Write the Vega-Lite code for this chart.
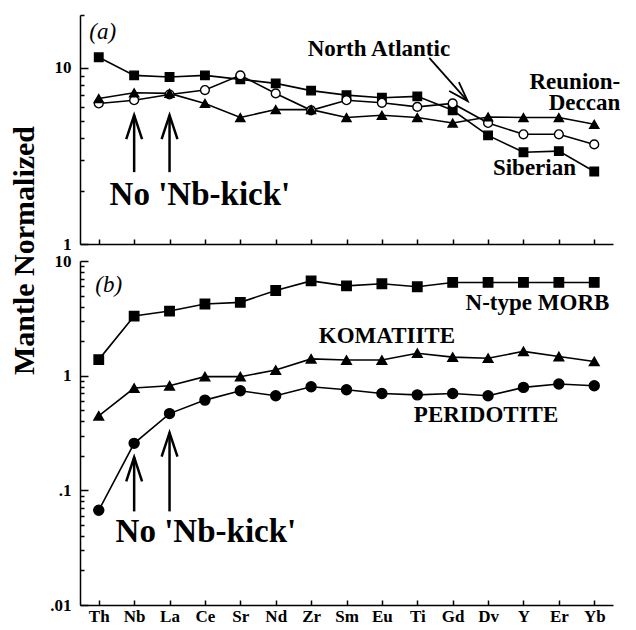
{
  "$schema": "https://vega.github.io/schema/vega-lite/v6.json",
  "padding": {"left": 9, "top": 14, "right": 5, "bottom": 5},
  "background": "white",
  "bounds": "flush",
  "config": {
    "view": {"stroke": null},
    "font": "Liberation Serif",
    "axis": {
      "domainColor": "black", "domainWidth": 1.5, "tickColor": "black", "tickWidth": 1.5,
      "labelFont": "Liberation Serif", "labelFontWeight": "bold", "labelFontSize": 17, "labelColor": "black",
      "titleFont": "Liberation Serif", "titleColor": "black", "grid": false
    },
    "text": {"font": "Liberation Serif", "fontWeight": "bold", "color": "black", "baseline": "middle", "align": "center"}
  },
  "datasets": {
    "pts": [
      {"p":"a","s":"Siberian","el":"Th","v":11.5},{"p":"a","s":"Siberian","el":"Nb","v":9.08},{"p":"a","s":"Siberian","el":"La","v":8.89},{"p":"a","s":"Siberian","el":"Ce","v":9.08},{"p":"a","s":"Siberian","el":"Sr","v":8.62},{"p":"a","s":"Siberian","el":"Nd","v":8.18},{"p":"a","s":"Siberian","el":"Zr","v":7.44},{"p":"a","s":"Siberian","el":"Sm","v":7.01},{"p":"a","s":"Siberian","el":"Eu","v":6.77},{"p":"a","s":"Siberian","el":"Ti","v":6.9},{"p":"a","s":"Siberian","el":"Gd","v":5.75},{"p":"a","s":"Siberian","el":"Dv","v":4.14},{"p":"a","s":"Siberian","el":"Y","v":3.32},{"p":"a","s":"Siberian","el":"Er","v":3.37},{"p":"a","s":"Siberian","el":"Yb","v":2.58},
      {"p":"a","s":"North Atlantic","el":"Th","v":6.29},{"p":"a","s":"North Atlantic","el":"Nb","v":6.56},{"p":"a","s":"North Atlantic","el":"La","v":7.07},{"p":"a","s":"North Atlantic","el":"Ce","v":7.49},{"p":"a","s":"North Atlantic","el":"Sr","v":9.08},{"p":"a","s":"North Atlantic","el":"Nd","v":7.17},{"p":"a","s":"North Atlantic","el":"Zr","v":5.75},{"p":"a","s":"North Atlantic","el":"Sm","v":6.56},{"p":"a","s":"North Atlantic","el":"Eu","v":6.34},{"p":"a","s":"North Atlantic","el":"Ti","v":6.01},{"p":"a","s":"North Atlantic","el":"Gd","v":6.29},{"p":"a","s":"North Atlantic","el":"Dv","v":4.87},{"p":"a","s":"North Atlantic","el":"Y","v":4.2},{"p":"a","s":"North Atlantic","el":"Er","v":4.2},{"p":"a","s":"North Atlantic","el":"Yb","v":3.68},
      {"p":"a","s":"Reunion-Deccan","el":"Th","v":6.71},{"p":"a","s":"Reunion-Deccan","el":"Nb","v":7.23},{"p":"a","s":"Reunion-Deccan","el":"La","v":7.17},{"p":"a","s":"Reunion-Deccan","el":"Ce","v":6.29},{"p":"a","s":"Reunion-Deccan","el":"Sr","v":5.23},{"p":"a","s":"Reunion-Deccan","el":"Nd","v":5.81},{"p":"a","s":"Reunion-Deccan","el":"Zr","v":5.8},{"p":"a","s":"Reunion-Deccan","el":"Sm","v":5.23},{"p":"a","s":"Reunion-Deccan","el":"Eu","v":5.39},{"p":"a","s":"Reunion-Deccan","el":"Ti","v":5.23},{"p":"a","s":"Reunion-Deccan","el":"Gd","v":4.87},{"p":"a","s":"Reunion-Deccan","el":"Dv","v":5.27},{"p":"a","s":"Reunion-Deccan","el":"Y","v":5.23},{"p":"a","s":"Reunion-Deccan","el":"Er","v":5.23},{"p":"a","s":"Reunion-Deccan","el":"Yb","v":4.79},
      {"p":"b","s":"N-type MORB","el":"Th","v":1.38},{"p":"b","s":"N-type MORB","el":"Nb","v":3.31},{"p":"b","s":"N-type MORB","el":"La","v":3.66},{"p":"b","s":"N-type MORB","el":"Ce","v":4.22},{"p":"b","s":"N-type MORB","el":"Sr","v":4.36},{"p":"b","s":"N-type MORB","el":"Nd","v":5.53},{"p":"b","s":"N-type MORB","el":"Zr","v":6.71},{"p":"b","s":"N-type MORB","el":"Sm","v":6.07},{"p":"b","s":"N-type MORB","el":"Eu","v":6.33},{"p":"b","s":"N-type MORB","el":"Ti","v":5.96},{"p":"b","s":"N-type MORB","el":"Gd","v":6.5},{"p":"b","s":"N-type MORB","el":"Dv","v":6.5},{"p":"b","s":"N-type MORB","el":"Y","v":6.5},{"p":"b","s":"N-type MORB","el":"Er","v":6.5},{"p":"b","s":"N-type MORB","el":"Yb","v":6.5},
      {"p":"b","s":"Komatiite","el":"Th","v":0.446},{"p":"b","s":"Komatiite","el":"Nb","v":0.78},{"p":"b","s":"Komatiite","el":"La","v":0.817},{"p":"b","s":"Komatiite","el":"Ce","v":0.98},{"p":"b","s":"Komatiite","el":"Sr","v":0.98},{"p":"b","s":"Komatiite","el":"Nd","v":1.12},{"p":"b","s":"Komatiite","el":"Zr","v":1.4},{"p":"b","s":"Komatiite","el":"Sm","v":1.37},{"p":"b","s":"Komatiite","el":"Eu","v":1.37},{"p":"b","s":"Komatiite","el":"Ti","v":1.57},{"p":"b","s":"Komatiite","el":"Gd","v":1.45},{"p":"b","s":"Komatiite","el":"Dv","v":1.42},{"p":"b","s":"Komatiite","el":"Y","v":1.63},{"p":"b","s":"Komatiite","el":"Er","v":1.47},{"p":"b","s":"Komatiite","el":"Yb","v":1.33},
      {"p":"b","s":"Peridotite","el":"Th","v":0.067},{"p":"b","s":"Peridotite","el":"Nb","v":0.257},{"p":"b","s":"Peridotite","el":"La","v":0.467},{"p":"b","s":"Peridotite","el":"Ce","v":0.612},{"p":"b","s":"Peridotite","el":"Sr","v":0.738},{"p":"b","s":"Peridotite","el":"Nd","v":0.668},{"p":"b","s":"Peridotite","el":"Zr","v":0.8},{"p":"b","s":"Peridotite","el":"Sm","v":0.753},{"p":"b","s":"Peridotite","el":"Eu","v":0.7},{"p":"b","s":"Peridotite","el":"Ti","v":0.68},{"p":"b","s":"Peridotite","el":"Gd","v":0.7},{"p":"b","s":"Peridotite","el":"Dv","v":0.668},{"p":"b","s":"Peridotite","el":"Y","v":0.79},{"p":"b","s":"Peridotite","el":"Er","v":0.845},{"p":"b","s":"Peridotite","el":"Yb","v":0.817}
    ]
  },
  "spacing": 17,
  "resolve": {"scale": {"y": "independent"}, "axis": {"x": "independent", "y": "independent"}},
  "vconcat": [
    {
      "width": 533, "height": 229,
      "encoding": {
        "x": {"field": "el", "type": "ordinal", "sort": ["Th","Nb","La","Ce","Sr","Nd","Zr","Sm","Eu","Ti","Gd","Dv","Y","Er","Yb"], "scale": {"type": "point", "padding": 0.53},
              "axis": {"labels": false, "title": null, "tickSize": -5}},
        "y": {"field": "v", "type": "quantitative", "scale": {"type": "log", "domain": [1, 20]},
              "axis": {"values": [1,2,3,4,5,6,7,8,9,10,20], "labelExpr": "datum.value == 1 ? '1' : datum.value == 10 ? '10' : ''",
                       "tickSize": {"condition": {"test": "datum.value == 1 || datum.value == 10", "value": -8}, "value": -4},
                       "labelPadding": 17,
                       "title": "Mantle Normalized", "titleFontSize": 30, "titleFontWeight": "bold", "titleAngle": -90,
                       "titleX": -47, "titleY": 235, "titleAlign": "center", "titleBaseline": "alphabetic"}}
      },
      "layer": [
        {"data": {"name": "pts"}, "transform": [{"filter": "datum.p == 'a'"}],
         "mark": {"type": "line", "color": "black", "strokeWidth": 1.6},
         "encoding": {"detail": {"field": "s"}}},
        {"data": {"name": "pts"}, "transform": [{"filter": "datum.p == 'a'"}],
         "mark": {"type": "point", "stroke": "black", "strokeWidth": 1.4, "opacity": 1},
         "encoding": {
           "shape": {"field": "s", "scale": {"domain": ["Siberian","North Atlantic","Reunion-Deccan","N-type MORB","Komatiite","Peridotite"], "range": ["square","circle","triangle-up","square","triangle-up","circle"]}, "legend": null},
           "fill": {"field": "s", "scale": {"domain": ["Siberian","North Atlantic","Reunion-Deccan","N-type MORB","Komatiite","Peridotite"], "range": ["black","white","black","black","black","black"]}, "legend": null},
           "size": {"field": "s", "scale": {"domain": ["Siberian","North Atlantic","Reunion-Deccan","N-type MORB","Komatiite","Peridotite"], "range": [72,100,100,62,95,64]}, "legend": null}
         }},
        {"data": {"values": [{"el":"Nb","v":2.56,"v2":5.39},{"el":"La","v":2.56,"v2":5.39}]},
         "mark": {"type": "rule", "color": "black", "strokeWidth": 2.5},
         "encoding": {"y2": {"field": "v2"}}},
        {"data": {"values": [{"el":"Nb","v":5.39},{"el":"La","v":5.39}]},
         "mark": {"type": "point", "shape": "M -0.33 1 L 0 0 L 0.33 1", "size": 2304, "filled": false, "stroke": "black", "strokeWidth": 2.5, "opacity": 1}},
        {"data": {"values": [{"el":"Ti","el2":"Gd","v":11.4,"v2":6.48}]},
         "mark": {"type": "rule", "color": "black", "strokeWidth": 1.8, "xOffset": 12, "x2Offset": 15},
         "encoding": {"x2": {"field": "el2"}, "y2": {"field": "v2"}}},
        {"data": {"values": [{"el":"Gd","v":6.48}]},
         "mark": {"type": "point", "shape": "M -0.33 1 L 0 0 L 0.33 1", "size": 1600, "filled": false, "stroke": "black", "strokeWidth": 1.8, "opacity": 1, "angle": 137, "xOffset": 15}},
        {"data": {"values": [{"el":"Th","v":16.1,"t":"(a)"}]},
         "mark": {"type": "text", "fontSize": 23, "fontStyle": "italic", "fontWeight": "normal", "dx": 4},
         "encoding": {"text": {"field": "t"}}},
        {"data": {"values": [{"el":"Eu","v":12.8,"t":"North Atlantic"}]},
         "mark": {"type": "text", "fontSize": 23, "dx": -3},
         "encoding": {"text": {"field": "t"}}},
        {"data": {"values": [{"el":"Yb","v":8.32,"t":"Reunion-"},{"el":"Yb","v":6.31,"t":"Deccan"}]},
         "mark": {"type": "text", "fontSize": 23, "align": "right", "dx": 26},
         "encoding": {"text": {"field": "t"}}},
        {"data": {"values": [{"el":"Y","v":2.72,"t":"Siberian"}]},
         "mark": {"type": "text", "fontSize": 23, "dx": 11},
         "encoding": {"text": {"field": "t"}}},
        {"data": {"values": [{"el":"Ce","v":1.89,"t":"No  'Nb-kick'"}]},
         "mark": {"type": "text", "fontSize": 33, "dx": -5},
         "encoding": {"text": {"field": "t"}}}
      ]
    },
    {
      "width": 533, "height": 344,
      "encoding": {
        "x": {"field": "el", "type": "ordinal", "sort": ["Th","Nb","La","Ce","Sr","Nd","Zr","Sm","Eu","Ti","Gd","Dv","Y","Er","Yb"], "scale": {"type": "point", "padding": 0.53},
              "axis": {"labelAngle": 0, "title": null, "tickSize": -5, "labelPadding": 8}},
        "y": {"field": "v", "type": "quantitative", "scale": {"type": "log", "domain": [0.01, 10]},
              "axis": {"values": [0.01,0.02,0.03,0.04,0.05,0.06,0.07,0.08,0.09,0.1,0.2,0.3,0.4,0.5,0.6,0.7,0.8,0.9,1,2,3,4,5,6,7,8,9,10],
                       "labelExpr": "datum.value == 10 ? '10' : datum.value == 1 ? '1' : datum.value == 0.1 ? '.1' : datum.value == 0.01 ? '.01' : ''",
                       "tickSize": {"condition": {"test": "datum.value == 10 || datum.value == 1 || datum.value == 0.1 || datum.value == 0.01", "value": -8}, "value": -4},
                       "labelPadding": 17, "title": null}}
      },
      "layer": [
        {"data": {"name": "pts"}, "transform": [{"filter": "datum.p == 'b'"}],
         "mark": {"type": "line", "color": "black", "strokeWidth": 1.6},
         "encoding": {"detail": {"field": "s"}}},
        {"data": {"name": "pts"}, "transform": [{"filter": "datum.p == 'b'"}],
         "mark": {"type": "point", "stroke": "black", "strokeWidth": 1.4, "opacity": 1},
         "encoding": {
           "shape": {"field": "s", "scale": {"domain": ["Siberian","North Atlantic","Reunion-Deccan","N-type MORB","Komatiite","Peridotite"], "range": ["square","circle","triangle-up","square","triangle-up","circle"]}, "legend": null},
           "fill": {"field": "s", "scale": {"domain": ["Siberian","North Atlantic","Reunion-Deccan","N-type MORB","Komatiite","Peridotite"], "range": ["black","white","black","black","black","black"]}, "legend": null},
           "size": {"field": "s", "scale": {"domain": ["Siberian","North Atlantic","Reunion-Deccan","N-type MORB","Komatiite","Peridotite"], "range": [72,100,100,62,95,64]}, "legend": null}
         }},
        {"data": {"values": [{"el":"Nb","v":0.0655,"v2":0.194},{"el":"La","v":0.0655,"v2":0.318}]},
         "mark": {"type": "rule", "color": "black", "strokeWidth": 2.5},
         "encoding": {"y2": {"field": "v2"}}},
        {"data": {"values": [{"el":"Nb","v":0.194},{"el":"La","v":0.318}]},
         "mark": {"type": "point", "shape": "M -0.33 1 L 0 0 L 0.33 1", "size": 2304, "filled": false, "stroke": "black", "strokeWidth": 2.5, "opacity": 1}},
        {"data": {"values": [{"el":"Th","v":6.17,"t":"(b)"}]},
         "mark": {"type": "text", "fontSize": 23, "fontStyle": "italic", "fontWeight": "normal", "dx": 10},
         "encoding": {"text": {"field": "t"}}},
        {"data": {"values": [{"el":"Y","v":4.3,"t":"N-type MORB"}]},
         "mark": {"type": "text", "fontSize": 23, "dx": 14},
         "encoding": {"text": {"field": "t"}}},
        {"data": {"values": [{"el":"Eu","v":2.2,"t":"KOMATIITE"}]},
         "mark": {"type": "text", "fontSize": 23, "dx": 5},
         "encoding": {"text": {"field": "t"}}},
        {"data": {"values": [{"el":"Dv","v":0.455,"t":"PERIDOTITE"}]},
         "mark": {"type": "text", "fontSize": 23, "dx": -2},
         "encoding": {"text": {"field": "t"}}},
        {"data": {"values": [{"el":"Ce","v":0.0436,"t":"No  'Nb-kick'"}]},
         "mark": {"type": "text", "fontSize": 33, "dx": 1},
         "encoding": {"text": {"field": "t"}}}
      ]
    }
  ]
}
